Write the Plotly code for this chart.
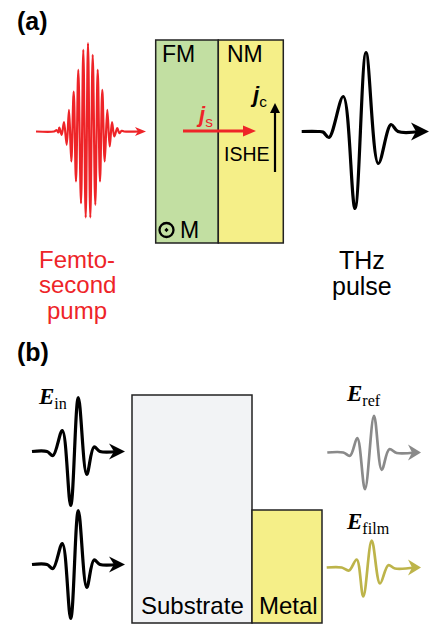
import plotly.graph_objects as go

# ---------------- data ----------------
# femtosecond pump pulse: time samples and field amplitude (px units)
PUMP_T = [36, 54, 56.7, 58.3, 59.3, 61.7, 64, 66.7, 69, 71.3, 73.7, 76, 78.3, 81, 83.3,
          85.7, 88, 90.3, 92.7, 95.3, 97.7, 100, 102.3, 104.7, 107.3, 109.7, 112, 114.3,
          117.3, 119.3, 121.7, 124, 140]
PUMP_A = [0, 0, 1.3, -1, 4, -3.3, 9.3, -13.3, 21.7, -30, 40, -50, 61.7, -71.7, 81.7,
          -86, 88.3, -86, 76.7, -73.3, 61.7, -50, 41.7, -30, 21.7, -15, 9.3, -5,
          3.3, -1.7, 0.7, 0, 0]

# emitted THz pulse (panel a)
THZ_T = [301.7, 318, 323, 329, 343.3, 355, 366, 378.3, 391, 398, 420]
THZ_A = [0, 0, -0.5, -6, 35, -77, 79, -32, 7, 0, 0]

# incident pulse E_in (panel b)
EIN_T = [32, 47, 53, 62.3, 70.7, 78.3, 86.7, 94, 100, 118]
EIN_A = [0, 0, -4, 21, -54, 54, -23, 4.5, 0, 0]

# reference transmission E_ref
EREF_T = [327.3, 343.3, 350, 357.3, 365, 374, 381.7, 389.3, 396.7, 415]
EREF_A = [0, 0, -3.3, 14.3, -36.7, 36.7, -17.3, 3.3, -0.5, 0]

# film transmission E_film
EFILM_T = [326.7, 341.7, 349, 356.7, 363.3, 371.7, 380, 388.3, 395, 415]
EFILM_A = [0, 0, -3, 8, -29, 27, -16, 2.3, -1, 0]

# ---------------- styles ----------------
RED = "#ee2428"
GREEN = "#c2dfa2"
YELLOW = "#f5ef88"
SUBST = "#f2f3f5"
OLIVE = "#bdb44a"
GRAY = "#8a8a8a"
SANS = "Liberation Sans, Arial, sans-serif"
SERIF = "Liberation Serif, Times New Roman, serif"

fig = go.Figure()


def wave(ts, amps, base, color, width):
    fig.add_trace(go.Scatter(
        x=ts, y=[base - a for a in amps], mode="lines",
        line=dict(color=color, width=width, shape="spline", smoothing=1.0),
        hoverinfo="skip", showlegend=False))


def head(tx, ty, direction, length, half, notch, color):
    """Filled arrow head; direction 'right' or 'up' (screen)."""
    if direction == "right":
        pts = [(tx, ty), (tx - length, ty - half), (tx - length + notch, ty),
               (tx - length, ty + half)]
    else:  # up (y axis is reversed, so smaller y is up)
        pts = [(tx, ty), (tx - half, ty + length), (tx, ty + length - notch),
               (tx + half, ty + length)]
    path = "M " + " L ".join(f"{x},{y}" for x, y in pts) + " Z"
    fig.add_shape(type="path", path=path, fillcolor=color, line=dict(width=0),
                  xref="x", yref="y")


def label(x, y, text, size, color="black", family=SANS, xanchor="left"):
    fig.add_annotation(x=x, y=y, xref="x", yref="y", text=text, showarrow=False,
                       xanchor=xanchor, yanchor="middle",
                       font=dict(size=size, color=color, family=family))


# ---------- panel (a) ----------
fig.add_shape(type="rect", x0=155.7, x1=218.3, y0=40, y1=243, fillcolor=GREEN,
              line=dict(color="#222", width=1.5), layer="below")
fig.add_shape(type="rect", x0=218.3, x1=283.3, y0=40, y1=243, fillcolor=YELLOW,
              line=dict(color="#222", width=1.5), layer="below")

PUMP_BASE = 131.5
wave(PUMP_T, PUMP_A, PUMP_BASE, RED, 2.2)
head(146, PUMP_BASE, "right", 11, 4.5, 3, RED)

THZ_BASE = 131.5
wave(THZ_T, THZ_A, THZ_BASE, "black", 3.2)
head(429, THZ_BASE, "right", 18, 9, 5, "black")

# spin current j_s and charge current j_c
fig.add_shape(type="line", x0=183, x1=246, y0=131, y1=131, line=dict(color=RED, width=3))
head(256, 131, "right", 13, 5.5, 0, RED)
fig.add_shape(type="line", x0=275, x1=275, y0=172, y1=112, line=dict(color="black", width=2.2))
head(275, 103, "up", 10, 5, 0, "black")

label(15, 21, "<b>(a)</b>", 25)
label(160, 54, "FM", 23)
label(225, 54, "NM", 23)
label(194, 116, "<b><i>j</i></b><sub>s</sub>", 22, RED)
label(248, 96, "<b><i>j</i></b><sub>c</sub>", 22)
label(222, 154, "ISHE", 19.5)
fig.add_trace(go.Scatter(x=[166.5], y=[230], mode="markers",
                         marker=dict(symbol="circle-open-dot", size=14, color="black",
                                     line=dict(width=2.3, color="black")),
                         hoverinfo="skip", showlegend=False))
label(178, 230, "M", 23)
label(77, 259, "Femto-", 24, RED, xanchor="center")
label(77, 284.5, "second", 24, RED, xanchor="center")
label(77, 310, "pump", 24, RED, xanchor="center")
label(362, 260, "THz", 25, xanchor="center")
label(362, 285.5, "pulse", 25, xanchor="center")

# ---------- panel (b) ----------
fig.add_shape(type="rect", x0=132, x1=252, y0=395, y1=623, fillcolor=SUBST,
              line=dict(color="#222", width=1.5), layer="below")
fig.add_shape(type="rect", x0=252, x1=322, y0=510, y1=623, fillcolor=YELLOW,
              line=dict(color="#222", width=1.5), layer="below")

for base in (451.5, 564.5):
    wave(EIN_T, EIN_A, base, "black", 3.2)
    head(125, base, "right", 16, 8, 5, "black")

REF_BASE = 452.5
wave(EREF_T, EREF_A, REF_BASE, GRAY, 2.7)
head(421, REF_BASE, "right", 13, 8, 4, GRAY)

FILM_BASE = 567.5
wave(EFILM_T, EFILM_A, FILM_BASE, OLIVE, 2.7)
head(421, FILM_BASE, "right", 13, 8, 4, OLIVE)

label(15, 352, "<b>(b)</b>", 25)
label(192.5, 605, "Substrate", 24, xanchor="center")
label(288.5, 605, "Metal", 24, xanchor="center")
label(36, 398, "<b><i>E</i></b><sub>in</sub>", 23, family=SERIF)
label(344, 395, "<b><i>E</i></b><sub>ref</sub>", 23, family=SERIF)
label(344, 523, "<b><i>E</i></b><sub>film</sub>", 23, family=SERIF)

fig.update_layout(
    width=430, height=626, margin=dict(l=0, r=0, t=0, b=0),
    paper_bgcolor="white", plot_bgcolor="white",
    xaxis=dict(range=[0, 430], visible=False, fixedrange=True),
    yaxis=dict(range=[626, 0], visible=False, fixedrange=True),
    showlegend=False,
)

fig.write_html("out.html", config={"displayModeBar": False},
               post_script="document.body.style.margin='0';document.body.style.overflow='hidden';")
